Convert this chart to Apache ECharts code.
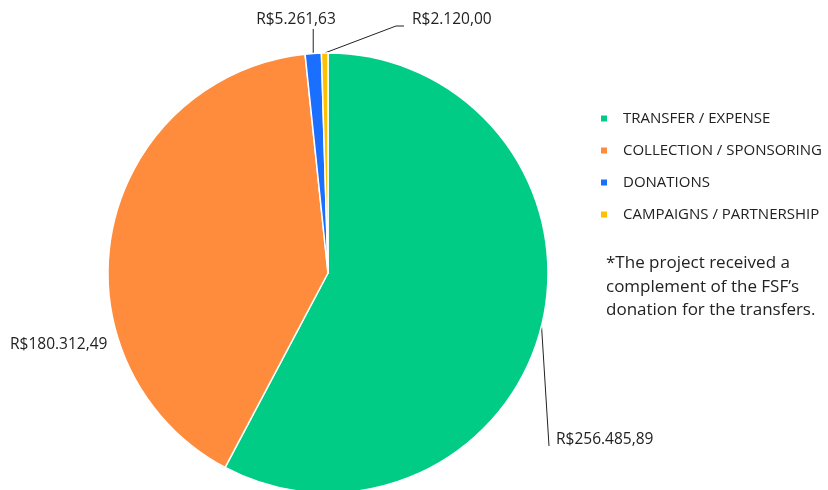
<!DOCTYPE html>
<html>
<head>
<meta charset="utf-8">
<script src="https://cdn.jsdelivr.net/npm/echarts@6/dist/echarts.min.js"></script>
<style>
	html, body { margin: 0; padding: 0; background: #fff; }
	#chart { width: 828px; height: 490px; }
</style>
</head>
<body>
<div id="chart"></div>
<script>
// categories and values
var categories = [ 'TRANSFER / EXPENSE', 'COLLECTION / SPONSORING', 'DONATIONS', 'CAMPAIGNS / PARTNERSHIP' ];
var values = [ 256485.89, 180312.49, 5261.63, 2120.00 ];
var valueLabels = [ 'R$256.485,89', 'R$180.312,49', 'R$5.261,63', 'R$2.120,00' ];
var colors = [ '#00cc86', '#ff8c3c', '#1a6fff', '#ffc000' ];
var noteLines = [ '*The project received a', 'complement of the FSF\u2019s', 'donation for the transfers.' ];

var myChart = echarts.init(document.getElementById('chart'));

// where each data label sits (Excel-style manual placement)
function placeLabel(params) {
	var i = params.dataIndex;
	var p0 = params.labelLinePoints ? params.labelLinePoints[0] : null;
	if (i === 0) {
		return {
			x : 556, y : 440, align : 'left', verticalAlign : 'middle',
			labelLinePoints : [ p0, [ 549, 446 ], [ 549, 446 ] ]
		};
	}
	if (i === 1) {
		return { x : 10, y : 345, align : 'left', verticalAlign : 'middle' };
	}
	if (i === 2) {
		return {
			x : 296, y : 20, align : 'center', verticalAlign : 'middle',
			labelLinePoints : [ p0, [ p0[0], 29 ], [ p0[0], 29 ] ]
		};
	}
	return {
		x : 412, y : 20, align : 'left', verticalAlign : 'middle',
		labelLinePoints : [ p0, [ 396, 26 ], [ 404, 26 ] ]
	};
}

var pieData = values.map(function(v, i) {
	var item = {
		name : categories[i],
		value : v,
		itemStyle : { color : colors[i] }
	};
	if (i === 1) {
		item.labelLine = { show : false };
	}
	return item;
});

var option = {
	animation : false,
	textStyle : { fontFamily : 'Open Sans' },
	legend : {
		orient : 'vertical',
		left : 594,
		top : 106,
		itemWidth : 8,
		itemHeight : 8,
		itemGap : 17,
		icon : 'rect',
		selectedMode : false,
		data : categories,
		textStyle : {
			fontFamily : 'Open Sans',
			fontSize : 15,
			color : '#222',
			padding : [ 0, 0, 0, 10 ]
		}
	},
	graphic : noteLines.map(function(t, i) {
		return {
			type : 'text',
			left : 606,
			top : 255 + i * 23.5,
			style : {
				text : t,
				font : '17px "Open Sans"',
				fill : '#222'
			}
		};
	}),
	series : [ {
		type : 'pie',
		center : [ 328, 273 ],
		radius : 220,
		startAngle : 90,
		clockwise : true,
		data : pieData,
		itemStyle : { borderColor : '#fff', borderWidth : 1.5 },
		label : {
			show : true,
			position : 'outside',
			overflow : 'none',
			formatter : function(p) { return valueLabels[p.dataIndex]; },
			fontFamily : 'Open Sans',
			fontSize : 15.5,
			color : '#222'
		},
		labelLine : {
			show : true,
			length : 10,
			length2 : 10,
			lineStyle : { color : '#222', width : 1 }
		},
		labelLayout : placeLabel
	} ]
};

myChart.setOption(option);
</script>
</body>
</html>
